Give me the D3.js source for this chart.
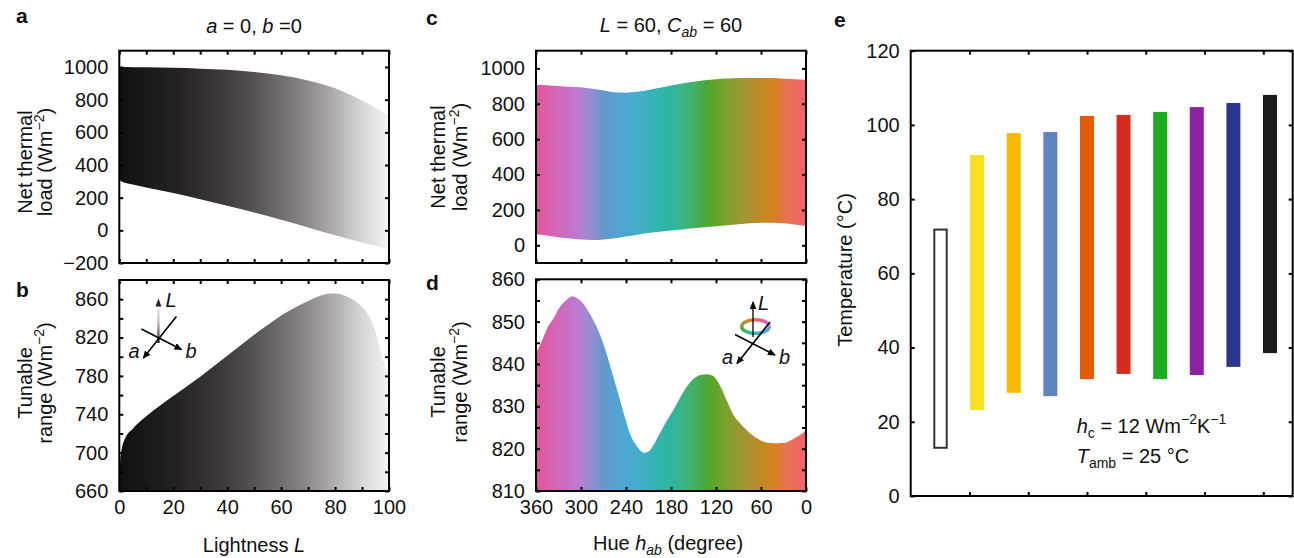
<!DOCTYPE html>
<html>
<head>
<meta charset="utf-8">
<title>Net thermal load and tunable range</title>
<script src="https://cdn.jsdelivr.net/npm/d3@7"></script>
<style>
    body { margin: 0; background: #fff; }
    svg { display: block; font-family: "Liberation Sans", Arial, Helvetica, sans-serif; }
</style>
</head>
<body>
<svg id="figure" width="1294" height="558"></svg>
<script>
// Panel a: net thermal load against lightness (a = 0, b = 0).
var lightA = [0, 0.6, 5, 10, 20, 30, 40, 50, 60, 70, 80, 90, 95, 100];
var loadHighA = [1000, 1000, 999, 998, 995, 990, 983, 970, 950, 918, 870, 795, 750, 700];
var loadLowA = [320, 300, 280, 262, 228, 190, 150, 110, 65, 18, -30, -75, -95, -115];

// Panel b: tunable range against lightness.
var lightB = [0, 0.3, 1, 2, 5, 10, 15, 20, 25, 30, 35, 40, 45, 50, 55, 60, 65, 70, 75, 78, 80, 85, 90, 93, 95, 97, 98.5, 100];
var rangeB = [660, 690, 705, 714, 725, 738, 749, 759, 769, 779, 790, 801, 812, 823, 833, 843, 851, 858, 864, 866, 866, 862, 852, 840, 826, 805, 790, 780];

// Panel c: net thermal load against hue (L = 60, Cab = 60).
var hueC = [360, 345, 330, 315, 300, 285, 270, 255, 240, 225, 210, 195, 180, 165, 150, 135, 120, 105, 90, 75, 60, 45, 30, 15, 0];
var loadHighC = [907, 905, 900, 896, 893, 885, 875, 865, 863, 868, 878, 890, 903, 915, 925, 933, 939, 943, 945, 946, 946, 945, 942, 939, 936];
var loadLowC = [62, 55, 45, 38, 33, 30, 33, 40, 50, 60, 70, 77, 83, 89, 96, 102, 108, 113, 119, 125, 128, 128, 124, 117, 109];

// Panel d: tunable range against hue.
var hueD = [360, 352, 345, 336, 328, 320, 312, 305, 300, 292, 284, 276, 266, 257, 248, 240, 234, 228, 222, 216, 210, 203, 195, 186, 177, 168, 159, 150, 141, 132, 124, 115, 106, 97, 88, 80, 70, 61, 52, 44, 36, 28, 20, 12, 5, 0];
var rangeD = [842.5, 845.5, 848.5, 851, 853.5, 855, 856, 855.5, 854.8, 853, 850.5, 847.5, 842.5, 837, 831.5, 826.5, 823.2, 821.2, 819.8, 819, 819.3, 821, 823.6, 826.5, 829.1, 832, 834.6, 836.5, 837.4, 837.6, 837.2, 835, 831.5, 828, 826, 824.5, 823, 822, 821.4, 821.3, 821.3, 821.4, 822, 822.8, 823.6, 824.4];

// Panel e: temperature span of each sample.
var samples = ['white', 'yellow', 'amber', 'blue', 'orange', 'red', 'green', 'purple', 'navy', 'black'];
var tempLow = [13, 23.2, 27.8, 26.9, 31.5, 32.9, 31.5, 32.6, 34.8, 38.5];
var tempHigh = [71.8, 91.9, 97.8, 98.1, 102.4, 102.7, 103.5, 104.8, 105.9, 108.1];

// Tick values and tick labels.
var ticksLight = [0, 10, 20, 30, 40, 50, 60, 70, 80, 90, 100];
var labelsLight = [0, 20, 40, 60, 80, 100];
var ticksLoadA = [-200, 0, 200, 400, 600, 800, 1000];
var ticksRangeB = [660, 680, 700, 720, 740, 760, 780, 800, 820, 840, 860];
var labelsRangeB = [660, 700, 740, 780, 820, 860];
var ticksHue = [360, 300, 240, 180, 120, 60, 0];
var ticksLoadC = [0, 200, 400, 600, 800, 1000];
var ticksRangeD = [810, 815, 820, 825, 830, 835, 840, 845, 850, 855, 860];
var labelsRangeD = [810, 820, 830, 840, 850, 860];
var ticksTemp = [0, 20, 40, 60, 80, 100, 120];
var ticksSample = [1, 2, 3, 4, 5, 6];

// Colours.
var grayStopL = [0, 10, 20, 30, 40, 50, 60, 70, 80, 90, 100];
var grayStopColor = ['#101010', '#1a1919', '#242221', '#312e2d', '#423e3d', '#575352', '#716d6c', '#8f8b8a', '#b1aeae', '#d7d5d5', '#f5f5f5'];
var hueStopH = [360, 340, 320, 300, 285, 270, 255, 240, 220, 200, 180, 165, 150, 135, 125, 110, 95, 80, 65, 50, 40, 25, 10, 0];
var hueStopColor = ['#e2559b', '#d862ad', '#c96fc3', '#b57fd2', '#918ed0', '#6697cc', '#55a2d2', '#4ba8d3', '#40afc8', '#34b3b2', '#2db59e', '#3ab584', '#40b267', '#4ba73a', '#59a628', '#76a12c', '#8f9b30', '#a59430', '#b98c28', '#cc8520', '#d87e2a', '#e87352', '#ef6762', '#f2606e'];
var sampleColors = ['#ffffff', '#f5e11f', '#f8bb00', '#6283c2', '#e65a05', '#d72b1f', '#1dad22', '#8b22a5', '#2e338b', '#1c1c1c'];

(function (d3) {
    'use strict';

    var svg = d3.select('#figure');
    var defs = svg.append('defs');
    var FS = 20;

    // Plot boxes of the five panels.
    var boxA = {left: 119.3, top: 50.7, width: 269.7, height: 212.3};
    var boxB = {left: 119.3, top: 280, width: 269.7, height: 211};
    var boxC = {left: 536, top: 50.7, width: 270, height: 212.3};
    var boxD = {left: 536, top: 279.3, width: 270, height: 211.7};
    var boxE = {left: 910.7, top: 50.7, width: 382, height: 445.3};

    // Scales.
    var xA = d3.scaleLinear().domain([0, 100]).range([0, boxA.width]);
    var yA = d3.scaleLinear().domain([-200, 1100]).range([boxA.height, 0]);
    var xB = d3.scaleLinear().domain([0, 100]).range([0, boxB.width]);
    var yB = d3.scaleLinear().domain([660, 880]).range([boxB.height, 0]);
    var xC = d3.scaleLinear().domain([360, 0]).range([0, boxC.width]);
    var yC = d3.scaleLinear().domain([-100, 1100]).range([boxC.height, 0]);
    var xD = d3.scaleLinear().domain([360, 0]).range([0, boxD.width]);
    var yD = d3.scaleLinear().domain([810, 860]).range([boxD.height, 0]);
    var xE = d3.scalePoint().domain(samples).range([29.8, 359.3]);
    var xETicks = d3.scaleLinear().domain([0, 6.5]).range([0, boxE.width]);
    var yE = d3.scaleLinear().domain([0, 120]).range([boxE.height, 0]);

    var hueColor = d3.scaleLinear().domain(hueStopH).range(hueStopColor);

    // Arrow head used by the little axis sketches.
    defs.append('marker')
        .attr('id', 'head')
        .attr('markerUnits', 'userSpaceOnUse')
        .attr('markerWidth', 8)
        .attr('markerHeight', 7)
        .attr('refX', 7)
        .attr('refY', 3.5)
        .attr('orient', 'auto')
        .append('path')
        .attr('d', 'M0,0L8,3.5L0,7Z')
        .attr('fill', '#000')
    ;

    function gradient(id, width, offsets, colors) {
        var grad = defs.append('linearGradient')
            .attr('id', id)
            .attr('gradientUnits', 'userSpaceOnUse')
            .attr('x1', 0).attr('x2', width)
            .attr('y1', 0).attr('y2', 0)
        ;
        grad.selectAll('stop')
            .data(offsets)
            .enter().append('stop')
            .attr('offset', function (d) { return d; })
            .attr('stop-color', function (d, i) { return colors[i]; })
        ;
    }

    gradient('grayGrad', boxA.width, grayStopL.map(function (L) { return xA(L) / boxA.width; }), grayStopColor);
    gradient('hueGrad', boxC.width, hueStopH.map(function (h) { return xC(h) / boxC.width; }), hueStopColor);

    var arrowGrad = defs.append('linearGradient')
        .attr('id', 'arrowGrad')
        .attr('x1', 0).attr('x2', 0)
        .attr('y1', 0).attr('y2', 1)
    ;
    arrowGrad.append('stop').attr('offset', 0).attr('stop-color', '#f2f2f2');
    arrowGrad.append('stop').attr('offset', 0.45).attr('stop-color', '#c9c3c3');
    arrowGrad.append('stop').attr('offset', 1).attr('stop-color', '#3a2c2c');

    function panel(box, id) {
        defs.append('clipPath').attr('id', id)
            .append('rect').attr('width', box.width).attr('height', box.height);
        return svg.append('g')
            .attr('transform', 'translate(' + box.left + ',' + box.top + ')');
    }

    function fmt(list) {
        return function (d) {
            if (!list || list.indexOf(d) < 0) return '';
            return d < 0 ? '\u2212' + (-d) : String(d);
        };
    }

    // Box with inward ticks on all four sides.
    function axes(g, box, x, y, o) {
        var w = box.width, h = box.height;
        g.append('g')
            .call(d3.axisLeft(y).tickValues(o.yTicks).tickSize(-4).tickPadding(11).tickFormat(fmt(o.yLabels)));
        g.append('g')
            .attr('transform', 'translate(' + w + ',0)')
            .call(d3.axisRight(y).tickValues(o.yTicks).tickSize(-4).tickFormat(''));
        g.append('g')
            .call(d3.axisTop(x).tickValues(o.xTicks).tickSize(-4).tickFormat(''));
        g.append('g')
            .attr('transform', 'translate(0,' + h + ')')
            .call(d3.axisBottom(x).tickValues(o.xTicks).tickSize(-4).tickPadding(9).tickFormat(fmt(o.xLabels)));
        g.selectAll('.domain').remove();
        g.selectAll('g').attr('font-family', null).attr('font-size', null);
        g.selectAll('.tick line').attr('stroke', '#000').attr('stroke-width', 2);
        g.selectAll('.tick text').attr('font-size', FS).attr('fill', '#111');
        g.append('rect')
            .attr('width', w).attr('height', h)
            .attr('fill', 'none').attr('stroke', '#000').attr('stroke-width', 2);
    }

    // Text with italic parts, subscripts and superscripts.
    function label(parent, x, y, parts, o) {
        o = o || {};
        var size = o.size || FS;
        var t = parent.append('text')
            .attr('transform', 'translate(' + x + ',' + y + ')' + (o.rotate ? ' rotate(-90)' : ''))
            .attr('text-anchor', o.anchor || 'start')
            .attr('font-size', size)
            .attr('font-weight', o.bold ? 'bold' : null)
            .attr('fill', '#111')
        ;
        var shift = 0;
        (typeof parts === 'string' ? [{t: parts}] : parts).forEach(function (p) {
            var target = p.sup ? -0.42 * size : p.sub ? 0.26 * size : 0;
            var span = t.append('tspan')
                .attr('dy', target - shift)
                .attr('font-size', p.sup || p.sub ? 0.7 * size : size)
                .text(p.t);
            if (p.it) span.attr('font-style', 'italic');
            shift = target;
        });
        return t;
    }

    function bandArea(x, y) {
        return d3.area()
            .curve(d3.curveMonotoneX)
            .x(function (d) { return x(d.x); })
            .y0(function (d) { return y(d.lo); })
            .y1(function (d) { return y(d.hi); });
    }

    function rows(xs, los, his) {
        return xs.map(function (v, i) {
            return {x: v, lo: typeof los === 'number' ? los : los[i], hi: his[i]};
        });
    }

    // Little a-b-L axis sketch, centred on a data point.
    function sketch(g, cx, cy, lAxis) {
        var s = g.append('g').attr('transform', 'translate(' + cx + ',' + cy + ')');
        lAxis(s);
        s.append('line')
            .attr('x1', 18).attr('y1', -22).attr('x2', -15).attr('y2', 19.5)
            .attr('stroke', '#000').attr('stroke-width', 1.6).attr('marker-end', 'url(#head)');
        s.append('line')
            .attr('x1', -17).attr('y1', -9.5).attr('x2', 23).attr('y2', 11)
            .attr('stroke', '#000').attr('stroke-width', 1.6).attr('marker-end', 'url(#head)');
        label(s, -30, 19.5, [{t: 'a', it: true}]);
        label(s, 27, 19.5, [{t: 'b', it: true}]);
        return s;
    }

    // ---- Panel a ----
    var gA = panel(boxA, 'clipA');
    gA.append('path')
        .datum(rows(lightA, loadLowA, loadHighA))
        .attr('clip-path', 'url(#clipA)')
        .attr('fill', 'url(#grayGrad)')
        .attr('d', bandArea(xA, yA))
    ;
    axes(gA, boxA, xA, yA, {xTicks: ticksLight, xLabels: null, yTicks: ticksLoadA, yLabels: ticksLoadA});

    // ---- Panel b ----
    var gB = panel(boxB, 'clipB');
    gB.append('path')
        .datum(rows(lightB, 660, rangeB))
        .attr('clip-path', 'url(#clipB)')
        .attr('fill', 'url(#grayGrad)')
        .attr('d', bandArea(xB, yB))
    ;
    sketch(gB, xB(14.5), yB(819), function (s) {
        s.append('rect')
            .attr('x', -1.3).attr('y', -33).attr('width', 2.6).attr('height', 37.5)
            .attr('fill', 'url(#arrowGrad)');
        s.append('path').attr('d', 'M-3,-32L0,-40L3,-32Z').attr('fill', '#222');
        label(s, 7, -31.5, [{t: 'L', it: true}]);
    });
    axes(gB, boxB, xB, yB, {xTicks: ticksLight, xLabels: labelsLight, yTicks: ticksRangeB, yLabels: labelsRangeB});

    // ---- Panel c ----
    var gC = panel(boxC, 'clipC');
    gC.append('path')
        .datum(rows(hueC, loadLowC, loadHighC))
        .attr('clip-path', 'url(#clipC)')
        .attr('fill', 'url(#hueGrad)')
        .attr('d', bandArea(xC, yC))
    ;
    axes(gC, boxC, xC, yC, {xTicks: ticksHue, xLabels: null, yTicks: ticksLoadC, yLabels: ticksLoadC});

    // ---- Panel d ----
    var gD = panel(boxD, 'clipD');
    gD.append('path')
        .datum(rows(hueD, 810, rangeD))
        .attr('clip-path', 'url(#clipD)')
        .attr('fill', 'url(#hueGrad)')
        .attr('d', bandArea(xD, yD))
    ;
    sketch(gD, xD(72), yD(844.7), function (s) {
        var ring = s.append('g').attr('transform', 'translate(3.5,-17.5)');
        d3.range(36).forEach(function (i) {
            var t0 = i * Math.PI / 18, t1 = (i + 1.2) * Math.PI / 18;
            var theta = (i + 0.5) * 10;
            ring.append('path')
                .attr('d', 'M' + 14 * Math.cos(t0) + ',' + 6.8 * Math.sin(t0) +
                    'L' + 14 * Math.cos(t1) + ',' + 6.8 * Math.sin(t1))
                .attr('stroke', hueColor((290 - theta + 720) % 360))
                .attr('stroke-width', 3.4)
                .attr('fill', 'none');
        });
        s.append('line')
            .attr('x1', 1).attr('y1', -7).attr('x2', 1).attr('y2', -42)
            .attr('stroke', '#000').attr('stroke-width', 1.3).attr('marker-end', 'url(#head)');
        label(s, 6, -34, [{t: 'L', it: true}]);
    });
    axes(gD, boxD, xD, yD, {xTicks: ticksHue, xLabels: ticksHue, yTicks: ticksRangeD, yLabels: labelsRangeD});

    // ---- Panel e ----
    var gE = panel(boxE, 'clipE');
    gE.selectAll('rect.bar')
        .data(samples)
        .enter().append('rect')
        .attr('class', 'bar')
        .attr('x', function (d, i) { return xE(d) - (i === 0 ? 6.2 : 7); })
        .attr('width', function (d, i) { return i === 0 ? 12.4 : 14; })
        .attr('y', function (d, i) { return yE(tempHigh[i]); })
        .attr('height', function (d, i) { return yE(tempLow[i]) - yE(tempHigh[i]); })
        .attr('fill', function (d, i) { return sampleColors[i]; })
        .attr('stroke', function (d, i) { return i === 0 ? '#333' : null; })
        .attr('stroke-width', 2)
    ;
    axes(gE, boxE, xETicks, yE, {xTicks: ticksSample, xLabels: null, yTicks: ticksTemp, yLabels: ticksTemp});
    label(gE, 166, 382, [{t: 'h', it: true}, {t: 'c', sub: true}, {t: ' = 12 Wm'}, {t: '\u22122', sup: true}, {t: 'K'}, {t: '\u22121', sup: true}]);
    label(gE, 166, 412, [{t: 'T', it: true}, {t: 'amb', sub: true}, {t: ' = 25 \u00b0C'}]);

    // ---- Titles, axis names and panel letters ----
    label(svg, 254, 33, [{t: 'a', it: true}, {t: ' = 0, '}, {t: 'b', it: true}, {t: ' =0'}], {anchor: 'middle'});
    label(svg, 671, 32, [{t: 'L', it: true}, {t: ' = 60, '}, {t: 'C', it: true}, {t: 'ab', it: true, sub: true}, {t: ' = 60'}], {anchor: 'middle'});

    label(svg, 32, 162, 'Net thermal', {rotate: true, anchor: 'middle'});
    label(svg, 52, 162, [{t: 'load (Wm'}, {t: '\u22122', sup: true}, {t: ')'}], {rotate: true, anchor: 'middle'});
    label(svg, 32, 383, 'Tunable', {rotate: true, anchor: 'middle'});
    label(svg, 52, 383, [{t: 'range (Wm'}, {t: '\u22122', sup: true}, {t: ')'}], {rotate: true, anchor: 'middle'});
    label(svg, 445, 157, 'Net thermal', {rotate: true, anchor: 'middle'});
    label(svg, 467, 157, [{t: 'load (Wm'}, {t: '\u22122', sup: true}, {t: ')'}], {rotate: true, anchor: 'middle'});
    label(svg, 445, 382, 'Tunable', {rotate: true, anchor: 'middle'});
    label(svg, 467, 382, [{t: 'range (Wm'}, {t: '\u22122', sup: true}, {t: ')'}], {rotate: true, anchor: 'middle'});
    label(svg, 852, 270, 'Temperature (\u00b0C)', {rotate: true, anchor: 'middle'});

    label(svg, 254, 552, [{t: 'Lightness '}, {t: 'L', it: true}], {anchor: 'middle'});
    label(svg, 668, 550, [{t: 'Hue '}, {t: 'h', it: true}, {t: 'ab', it: true, sub: true}, {t: ' (degree)'}], {anchor: 'middle'});

    label(svg, 16, 23, 'a', {bold: true, size: 21});
    label(svg, 16, 297, 'b', {bold: true, size: 21});
    label(svg, 426, 25, 'c', {bold: true, size: 21});
    label(svg, 426, 290, 'd', {bold: true, size: 21});
    label(svg, 834, 27, 'e', {bold: true, size: 21});
})(d3);
</script>
</body>
</html>
